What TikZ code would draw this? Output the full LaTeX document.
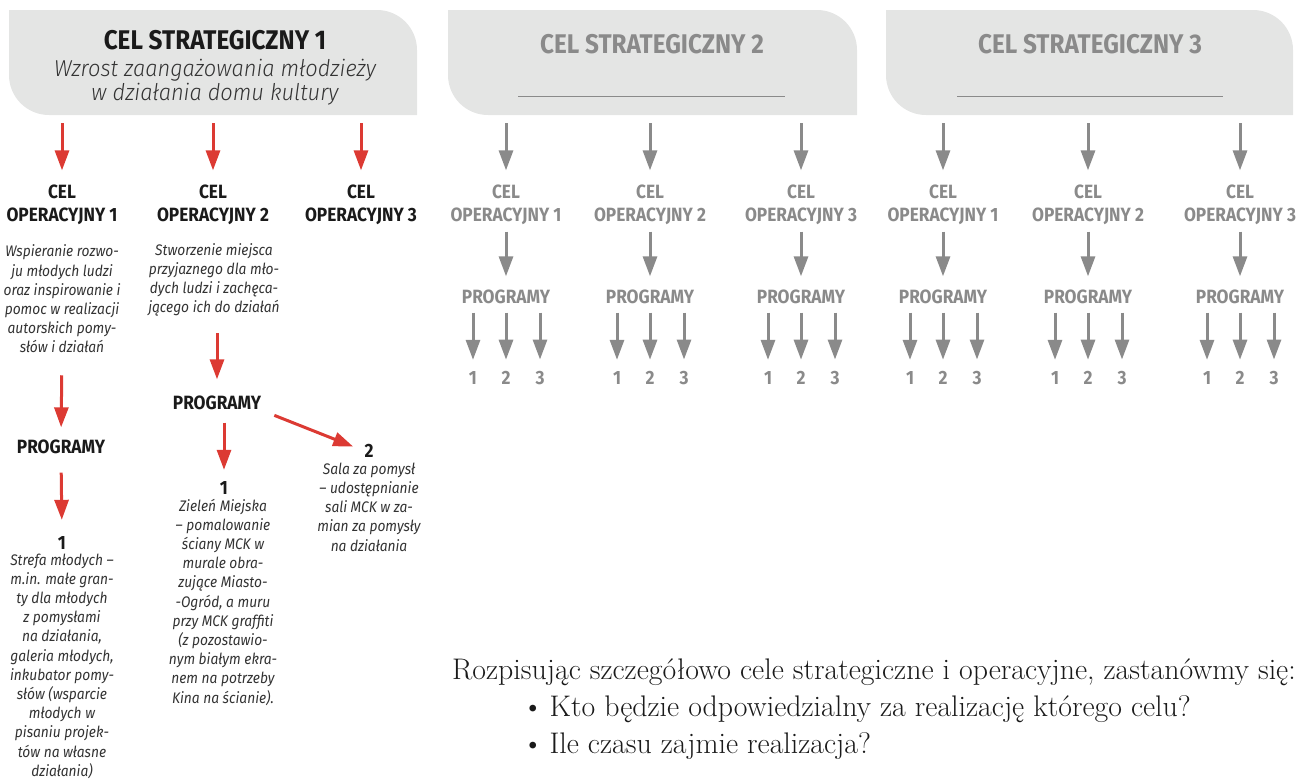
\documentclass[tikz,border=0pt]{standalone}
\usepackage{fontspec}
\setsansfont{Fira Sans}[FakeStretch=0.9]
\newfontfamily\thinit{Fira Sans Light Italic}[FakeStretch=0.95]
\usetikzlibrary{arrows.meta}
\definecolor{boxgray}{HTML}{E4E5E4}
\definecolor{redarrow}{HTML}{DC3A33}
\definecolor{greytext}{HTML}{8A8A8A}
\definecolor{darktext}{HTML}{1A1A1A}
\definecolor{softtext}{HTML}{333333}
\begin{document}
\begin{tikzpicture}[x=1pt,y=-1pt,
	bigtitle/.style={font=\sffamily\bfseries\fontsize{27}{30}\selectfont},
	subtitle/.style={font=\thinit\fontsize{23}{24}\selectfont, text=softtext, align=center},
	optag/.style={font=\sffamily\bfseries\fontsize{19.2}{23}\selectfont, text=darktext, align=center},
	desc/.style={font=\sffamily\itshape\fontsize{15.3}{19.2}\selectfont, text=softtext, align=center},
	gtag/.style={optag, text=greytext},
	question/.style={anchor=base west, font=\rmfamily\fontsize{29.8}{37}\selectfont, text=darktext},
	redline/.style={draw=redarrow, line width=3pt, -{Triangle[width=14pt,length=20pt]}},
	greyline/.style={draw=greytext, line width=3pt, -{Triangle[width=14pt,length=20pt]}},
	fromhead/.style={shorten <=8pt, shorten >=14.5pt},
	toprog/.style={shorten <=6.5pt, shorten >=13.5pt},
	tonum/.style={shorten <=8.5pt, shorten >=11.5pt}]
	\tikzstyle{every node}+=[inner sep=0pt]
	\useasboundingbox (0,0) rectangle (1300,780);
	% strategic goal boxes
	\fill[boxgray] (9,10) -- (377,10) to[out=0,in=90] (417,50) -- (417,115) -- (49,115) to[out=180,in=-90] (9,75) -- cycle;
	\fill[boxgray] (448,10) -- (817,10) to[out=0,in=90] (857,50) -- (857,115) -- (488,115) to[out=180,in=-90] (448,75) -- cycle;
	\fill[boxgray] (886,10) -- (1253,10) to[out=0,in=90] (1293,50) -- (1293,115) -- (926,115) to[out=180,in=-90] (886,75) -- cycle;
	\coordinate (b1) at (213,115);
	\coordinate (b2) at (652,115);
	\coordinate (b3) at (1090,115);
	\node[bigtitle, text=darktext] (s1) at (215,40) {CEL STRATEGICZNY 1};
	\node[subtitle] (s1sub) at (215,82) {Wzrost zaangażowania młodzieży\\w działania domu kultury};
	\node[bigtitle, text=greytext] (s2) at (652,44) {CEL STRATEGICZNY 2};
	\node[bigtitle, text=greytext] (s3) at (1090,44) {CEL STRATEGICZNY 3};
	\draw[greytext, line width=1pt] (518,96) -- (785,96);
	\draw[greytext, line width=1pt] (957,96) -- (1223,96);
	% goal 1
	\node[optag] (o11) at (62,205) {CEL\\OPERACYJNY 1};
	\node[optag] (o12) at (213,205) {CEL\\OPERACYJNY 2};
	\node[optag] (o13) at (361,205) {CEL\\OPERACYJNY 3};
	\draw[redline, fromhead] (b1 -| o11) -- (o11.north);
	\draw[redline, fromhead] (b1 -| o12) -- (o12.north);
	\draw[redline, fromhead] (b1 -| o13) -- (o13.north);
	\node[desc] (d11) at (62,299) {Wspieranie rozwo-\\ju młodych ludzi\\oraz inspirowanie i\\pomoc w realizacji\\autorskich pomy-\\słów i działań};
	\node[desc] (d12) at (214,280) {Stworzenie miejsca\\przyjaznego dla mło-\\dych ludzi i zachęca-\\jącego ich do działań};
	\node[optag] (p11) at (61,447) {PROGRAMY};
	\node[optag] (p12) at (217,403) {PROGRAMY};
	\draw[redline, shorten <=22pt, shorten >=12.5pt] (d11.south) -- (p11.north);
	\draw[redline, shorten <=16.5pt, shorten >=16.5pt] (d12.south -| p12) -- (p12.north);
	\node[optag] (n11) at (62,543) {1};
	\node[desc] (t11) at (62,666) {Strefa młodych –\\m.in. małe gran-\\ty dla młodych\\z pomysłami\\na działania,\\galeria młodych,\\inkubator pomy-\\słów (wsparcie\\młodych w\\pisaniu projek-\\tów na własne\\działania)};
	\draw[redline, shorten <=18.5pt, shorten >=16.5pt] (p11.south) -- (n11.north);
	\node[optag] (n12) at (224,488) {1};
	\node[desc] (t12) at (223,602) {Zieleń Miejska\\– pomalowanie\\ściany MCK w\\murale obra-\\zujące Miasto-\\-Ogród, a muru\\przy MCK graffiti\\(z pozostawio-\\nym białym ekra-\\nem na potrzeby\\Kina na ścianie).};
	\draw[redline, shorten <=12.5pt, shorten >=11.5pt] (n12 |- p12.south) -- (n12.north);
	\node[optag] (n13) at (369,451) {2};
	\node[desc] (t13) at (369,507) {Sala za pomysł\\– udostępnianie\\sali MCK w za-\\mian za pomysły\\na działania};
	\draw[redline, shorten <=14pt, shorten >=12pt] (p12.south east) -- (n13.west);
	% goal 2
	\node[gtag] (o21) at (506,205) {CEL\\OPERACYJNY 1};
	\node[gtag] (p21) at (506,297) {PROGRAMY};
	\node[gtag] (n21a) at (473,378) {1};
	\node[gtag] (n21b) at (506,378) {2};
	\node[gtag] (n21c) at (540,378) {3};
	\draw[greyline, fromhead] (b2 -| o21) -- (o21.north);
	\draw[greyline, toprog] (o21.south) -- (p21.north);
	\draw[greyline, tonum] (n21a |- p21.south) -- (n21a.north);
	\draw[greyline, tonum] (n21b |- p21.south) -- (n21b.north);
	\draw[greyline, tonum] (n21c |- p21.south) -- (n21c.north);
	\node[gtag] (o22) at (650,205) {CEL\\OPERACYJNY 2};
	\node[gtag] (p22) at (650,297) {PROGRAMY};
	\node[gtag] (n22a) at (617,378) {1};
	\node[gtag] (n22b) at (650,378) {2};
	\node[gtag] (n22c) at (684,378) {3};
	\draw[greyline, fromhead] (b2 -| o22) -- (o22.north);
	\draw[greyline, toprog] (o22.south) -- (p22.north);
	\draw[greyline, tonum] (n22a |- p22.south) -- (n22a.north);
	\draw[greyline, tonum] (n22b |- p22.south) -- (n22b.north);
	\draw[greyline, tonum] (n22c |- p22.south) -- (n22c.north);
	\node[gtag] (o23) at (801,205) {CEL\\OPERACYJNY 3};
	\node[gtag] (p23) at (801,297) {PROGRAMY};
	\node[gtag] (n23a) at (768,378) {1};
	\node[gtag] (n23b) at (801,378) {2};
	\node[gtag] (n23c) at (835,378) {3};
	\draw[greyline, fromhead] (b2 -| o23) -- (o23.north);
	\draw[greyline, toprog] (o23.south) -- (p23.north);
	\draw[greyline, tonum] (n23a |- p23.south) -- (n23a.north);
	\draw[greyline, tonum] (n23b |- p23.south) -- (n23b.north);
	\draw[greyline, tonum] (n23c |- p23.south) -- (n23c.north);
	% goal 3
	\node[gtag] (o31) at (943,205) {CEL\\OPERACYJNY 1};
	\node[gtag] (p31) at (943,297) {PROGRAMY};
	\node[gtag] (n31a) at (910,378) {1};
	\node[gtag] (n31b) at (943,378) {2};
	\node[gtag] (n31c) at (977,378) {3};
	\draw[greyline, fromhead] (b3 -| o31) -- (o31.north);
	\draw[greyline, toprog] (o31.south) -- (p31.north);
	\draw[greyline, tonum] (n31a |- p31.south) -- (n31a.north);
	\draw[greyline, tonum] (n31b |- p31.south) -- (n31b.north);
	\draw[greyline, tonum] (n31c |- p31.south) -- (n31c.north);
	\node[gtag] (o32) at (1088,205) {CEL\\OPERACYJNY 2};
	\node[gtag] (p32) at (1088,297) {PROGRAMY};
	\node[gtag] (n32a) at (1055,378) {1};
	\node[gtag] (n32b) at (1088,378) {2};
	\node[gtag] (n32c) at (1122,378) {3};
	\draw[greyline, fromhead] (b3 -| o32) -- (o32.north);
	\draw[greyline, toprog] (o32.south) -- (p32.north);
	\draw[greyline, tonum] (n32a |- p32.south) -- (n32a.north);
	\draw[greyline, tonum] (n32b |- p32.south) -- (n32b.north);
	\draw[greyline, tonum] (n32c |- p32.south) -- (n32c.north);
	\node[gtag] (o33) at (1240,205) {CEL\\OPERACYJNY 3};
	\node[gtag] (p33) at (1240,297) {PROGRAMY};
	\node[gtag] (n33a) at (1207,378) {1};
	\node[gtag] (n33b) at (1240,378) {2};
	\node[gtag] (n33c) at (1274,378) {3};
	\draw[greyline, fromhead] (b3 -| o33) -- (o33.north);
	\draw[greyline, toprog] (o33.south) -- (p33.north);
	\draw[greyline, tonum] (n33a |- p33.south) -- (n33a.north);
	\draw[greyline, tonum] (n33b |- p33.south) -- (n33b.north);
	\draw[greyline, tonum] (n33c |- p33.south) -- (n33c.north);
	% questions
	\node[question] (q0) at (452,679) {Rozpisując szczegółowo cele strategiczne i operacyjne, zastanówmy się:};
	\node[question] (q1) at (522,716) {\textbullet\hspace{6pt}Kto będzie odpowiedzialny za realizację którego celu?};
	\node[question] (q2) at (522,753) {\textbullet\hspace{6pt}Ile czasu zajmie realizacja?};
\end{tikzpicture}
\end{document}
